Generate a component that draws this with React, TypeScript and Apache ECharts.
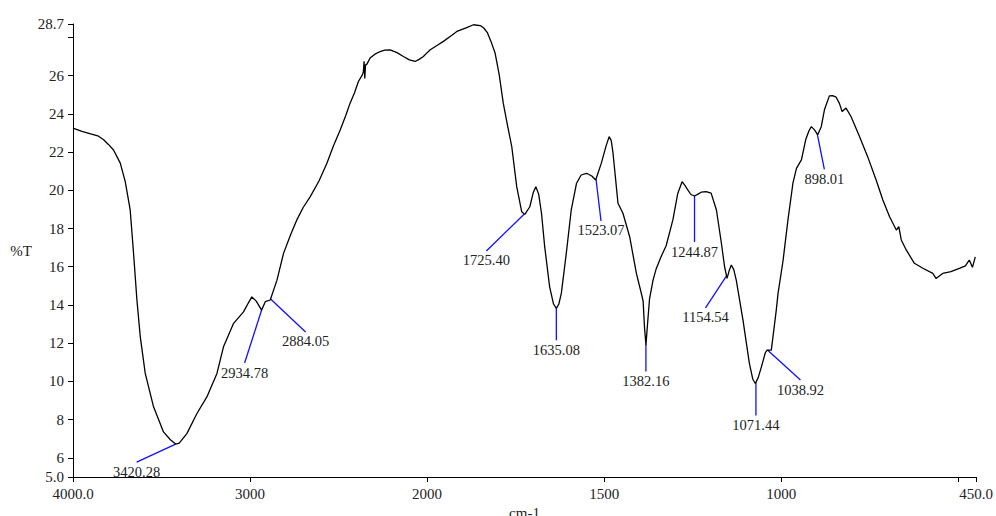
import React, { useEffect, useRef } from "react";
import * as echarts from "echarts";

// FTIR spectrum (wavenumber in cm-1, %T)
const wavenumbers = [
  4000, 3950, 3900, 3860, 3827, 3800, 3771, 3733, 3705, 3677, 3658, 3639, 3620, 3592, 3545, 3489, 3450, 3420, 3400, 3357,
  3300, 3244, 3187, 3150, 3093, 3037, 3010, 2990, 2965, 2935, 2914, 2886, 2848, 2811, 2770, 2736, 2700, 2660, 2610, 2566,
  2530, 2491, 2460, 2435, 2410, 2388, 2365, 2360, 2356, 2352, 2348, 2340, 2322, 2295, 2265, 2240, 2209, 2170, 2134, 2100,
  2068, 2045, 2021, 2000, 1991, 1970, 1954, 1935, 1916, 1890, 1869, 1850, 1840, 1830, 1818, 1808, 1796, 1785, 1773, 1761,
  1747, 1733, 1724, 1710, 1700, 1693, 1685, 1677, 1668, 1654, 1643, 1635, 1628, 1621, 1607, 1593, 1578, 1565, 1550, 1535,
  1524, 1508, 1495, 1486, 1480, 1475, 1461, 1447, 1428, 1409, 1395, 1390, 1386, 1382, 1378, 1372, 1362, 1353, 1340, 1325,
  1306, 1292, 1280, 1270, 1264, 1255, 1245, 1235, 1226, 1212, 1198, 1183, 1169, 1160, 1153, 1147, 1141, 1134, 1127, 1108,
  1090, 1080, 1073, 1065, 1056, 1045, 1040, 1028, 1014, 1009, 995, 981, 967, 957, 943, 931, 922, 915, 906, 897,
  887, 878, 864, 855, 845, 836, 828, 817, 803, 779, 756, 732, 713, 694, 675, 668, 661, 647, 624, 600,
  572, 563, 544, 521, 497, 480, 469, 460, 452,
];
const transmittance = [
  23.25, 23.08, 22.95, 22.85, 22.64, 22.4, 22.11, 21.42, 20.45, 18.97, 16.7, 14.26, 12.33, 10.42, 8.67, 7.36, 6.95, 6.72, 6.77, 7.27,
  8.32, 9.19, 10.42, 11.81, 13.04, 13.64, 14.1, 14.42, 14.2, 13.73, 14.17, 14.26, 15.3, 16.7, 17.7, 18.45, 19.1, 19.67, 20.5, 21.42,
  22.3, 23.16, 23.9, 24.56, 25.1, 25.69, 26.05, 26.2, 26.75, 25.85, 26.55, 26.6, 26.92, 27.12, 27.26, 27.33, 27.35, 27.2, 27.0, 26.82,
  26.74, 26.85, 27.0, 27.2, 27.35, 27.6, 27.79, 28.05, 28.31, 28.5, 28.66, 28.62, 28.49, 28.25, 27.7, 27.18, 26.0, 24.56, 23.4, 22.29,
  20.19, 18.88, 18.74, 19.14, 19.9, 20.19, 19.8, 18.8, 17.05, 14.95, 14.05, 13.82, 14.05, 14.61, 16.7, 18.97, 20.37, 20.8, 20.89, 20.75,
  20.54, 21.42, 22.3, 22.81, 22.6, 21.94, 19.32, 18.8, 17.57, 15.65, 14.6, 14.2, 12.8, 11.9, 12.9, 14.3, 15.3, 15.9, 16.5, 17.1,
  18.45, 19.85, 20.45, 20.2, 20.02, 19.78, 19.7, 19.8, 19.9, 19.93, 19.85, 18.97, 17.23, 16.0, 15.39, 15.8, 16.09, 15.85, 15.3, 13.21,
  10.94, 10.1, 9.89, 10.2, 10.76, 11.5, 11.64, 11.64, 13.73, 14.61, 16.3, 18.45, 20.37, 21.15, 21.59, 22.64, 23.1, 23.33, 23.16, 22.9,
  23.33, 24.21, 24.94, 24.95, 24.87, 24.56, 24.12, 24.3, 23.86, 22.81, 21.76, 20.54, 19.49, 18.62, 17.92, 18.1, 17.4, 16.88, 16.18, 15.92,
  15.65, 15.39, 15.65, 15.74, 15.92, 16.05, 16.35, 15.97, 16.52,
];

// Peak annotations (cm-1)
const peakLabels = [3420.28, 2934.78, 2884.05, 1725.4, 1635.08, 1523.07, 1382.16, 1244.87, 1154.54, 1071.44, 1038.92, 898.01];

// Axis ticks
const xTickValues = [4000, 3000, 2000, 1500, 1000, 500, 450];
const xTickLabels = ["4000.0", "3000", "2000", "1500", "1000", "", "450.0"];
const yTickValues = [5, 6, 8, 10, 12, 14, 16, 18, 20, 22, 24, 26, 28, 28.7];
const yTickLabels = ["5.0", "6", "8", "10", "12", "14", "16", "18", "20", "22", "24", "26", "", "28.7"];

// Layout: pixel offset from the peak point to the end of each leader line
const leaderOffsets = [
  [-39, 18], [-17, 53], [35, 33], [-38, 37], [0, 32], [5, 42],
  [0, 27], [0, 46], [-21, 32], [0, 33], [33, 30], [7, 35],
];

const SERIF = "Liberation Serif";

// Spectrometer-style axis: above 2000 cm-1 the scale is compressed by 2
function toAxis(w: number) {
  return w >= 2000 ? 4000 - w : 2000 + 2 * (2000 - w);
}

function interpT(w: number) {
  for (let i = 0; i < wavenumbers.length - 1; i++) {
    const a = wavenumbers[i];
    const b = wavenumbers[i + 1];
    if (w <= a && w >= b) {
      const t = (a - w) / (a - b);
      return transmittance[i] + t * (transmittance[i + 1] - transmittance[i]);
    }
  }
  return transmittance[transmittance.length - 1];
}

function lookup(values: number[], labels: string[], v: number) {
  let best = 0;
  for (let i = 1; i < values.length; i++) {
    if (Math.abs(values[i] - v) < Math.abs(values[best] - v)) best = i;
  }
  return labels[best];
}

export default function App() {
  const ref = useRef<HTMLDivElement>(null);

  useEffect(() => {
    if (!ref.current) return;
    const chart = echarts.init(ref.current, undefined, { renderer: "svg" });
    const xAxisValues = xTickValues.map(toAxis);
    const lineData = wavenumbers.map((w, i) => [toAxis(w), transmittance[i]]);

    chart.setOption({
      animation: false,
      backgroundColor: "#ffffff",
      grid: { left: 73, right: 20, top: 24, bottom: 39, containLabel: false, outerBoundsMode: "none" },
      xAxis: {
        type: "value",
        min: 0,
        max: toAxis(450),
        name: "cm-1",
        nameLocation: "middle",
        nameGap: 27,
        nameTextStyle: { fontFamily: SERIF, fontSize: 15, color: "#222" },
        axisLine: { lineStyle: { color: "#000", width: 1 } },
        axisTick: { show: true, length: 5, customValues: xAxisValues, lineStyle: { color: "#000" } },
        axisLabel: {
          customValues: xAxisValues,
          margin: 9,
          fontFamily: SERIF,
          fontSize: 15,
          color: "#222",
          formatter: (v: number) => lookup(xAxisValues, xTickLabels, v),
        },
        splitLine: { show: false },
      },
      yAxis: {
        type: "value",
        min: 5,
        max: 28.7,
        name: "%T",
        nameLocation: "middle",
        nameRotate: 0,
        nameGap: 39,
        nameTextStyle: { fontFamily: SERIF, fontSize: 15, color: "#222" },
        axisLine: { show: true, lineStyle: { color: "#000", width: 1 } },
        axisTick: { show: true, length: 5, customValues: yTickValues, lineStyle: { color: "#000" } },
        axisLabel: {
          customValues: yTickValues,
          margin: 9,
          fontFamily: SERIF,
          fontSize: 15,
          color: "#222",
          formatter: (v: number) => lookup(yTickValues, yTickLabels, v),
        },
        splitLine: { show: false },
      },
      series: [
        {
          type: "line",
          data: lineData,
          showSymbol: false,
          symbol: "none",
          lineStyle: { color: "#000", width: 1.3 },
          z: 3,
        },
      ],
    });

    const graphics: any[] = [];
    peakLabels.forEach((w, i) => {
      const p = chart.convertToPixel({ xAxisIndex: 0, yAxisIndex: 0 }, [toAxis(w), interpT(w)]) as number[];
      const [dx, dy] = leaderOffsets[i];
      const ex = p[0] + dx;
      const ey = p[1] + dy;
      graphics.push({
        type: "line",
        shape: { x1: p[0], y1: p[1], x2: ex, y2: ey },
        style: { stroke: "#1010ff", lineWidth: 1.3 },
        z: 2,
      });
      graphics.push({
        type: "text",
        x: ex,
        y: ey + 2,
        style: {
          text: w.toFixed(2),
          fontFamily: SERIF,
          fontSize: 14.5,
          fill: "#222",
          align: "center",
          verticalAlign: "top",
        },
        z: 4,
      });
    });
    chart.setOption({ graphic: graphics });

    return () => chart.dispose();
  }, []);

  return (
    <div
      ref={ref}
      style={{ position: "absolute", left: 0, top: 0, width: 996, height: 516 }}
    />
  );
}
